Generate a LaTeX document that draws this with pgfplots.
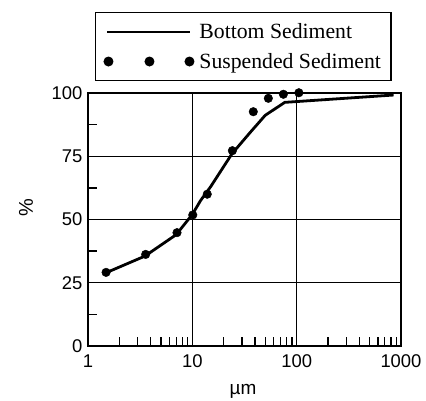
\documentclass[border=0pt]{standalone}
\usepackage{fontspec}
\setmainfont{Liberation Serif}
\newfontfamily\arialfont{Liberation Sans}
\usepackage{pgfplots}
\pgfplotsset{compat=1.18}
\pgfplotstableread{
x y
1.5 29
3.5 35.5
7 44
10 52
12 57.5
15 63
24 76
36 84.5
50 91.2
77 96.3
850 99.2
}\bottomsed
\pgfplotstableread{
x y
1.49 29.1
3.57 36.2
7.13 44.8
10.1 51.8
13.9 60
24.2 77.2
38.4 92.6
53.5 97.9
74.6 99.5
105 100.1
}\suspsed
\begin{document}
\begin{tikzpicture}
\useasboundingbox (0,0) rectangle (426bp,401bp);
\begin{axis}[
  at={(88bp,55bp)}, anchor=south west,
  scale only axis, width=313bp, height=253bp,
  clip=false,
  xmode=log, log basis x=10,
  xmin=1, xmax=1000, ymin=0, ymax=100,
  xtick={1,10,100,1000}, xticklabels={1,10,100,1000},
  minor xtick={2,3,4,5,6,7,8,9,20,30,40,50,60,70,80,90,200,300,400,500,600,700,800,900},
  ytick={0,25,50,75,100},
  minor ytick={12.5,37.5,62.5,87.5},
  tick align=inside, tick pos=left,
  major tick length=0pt, minor tick length=9bp,
  xmajorgrids, ymajorgrids,
  grid style={black, line width=1.3bp},
  axis line style={line width=1.3bp},
  every tick/.style={black, line width=1.3bp},
  tick label style={font=\arialfont\fontsize{18.5}{21}\selectfont},
  /pgf/number format/assume math mode=true,
  xticklabel style={yshift=-5bp},
  yticklabel style={xshift=-2bp},
  xlabel={\arialfont\fontsize{19}{21}\selectfont µm},
  ylabel={\arialfont\fontsize{20}{22}\selectfont \%},
  xlabel style={at={(axis description cs:0.495,-0.178)}, anchor=center},
  ylabel style={at={(axis description cs:-0.198,0.545)}, anchor=center},
  legend style={at={(axis description cs:0.022,1.320)}, anchor=north west,
    draw=black, line width=1.3bp, font=\fontsize{21.8}{25}\selectfont,
    inner xsep=8bp, inner ysep=9bp, row sep=9bp},
  legend cell align=left,
]
\addplot[black, line width=2.8bp,
  legend image code/.code={\draw[black, line width=2.8bp] (0bp,0bp) -- (83bp,0bp);}]
  table[x=x,y=y] {\bottomsed};
\addlegendentry{\hspace*{3bp}Bottom Sediment}
\addplot[only marks, mark=*, mark size=4.3bp, black,
  legend image code/.code={\fill[black] (1bp,0bp) circle (4.3bp); \fill[black] (42bp,0bp) circle (4.3bp); \fill[black] (82bp,0bp) circle (4.3bp);}]
  table[x=x,y=y] {\suspsed};
\addlegendentry{\hspace*{3bp}Suspended Sediment}
\end{axis}
\end{tikzpicture}
\end{document}
